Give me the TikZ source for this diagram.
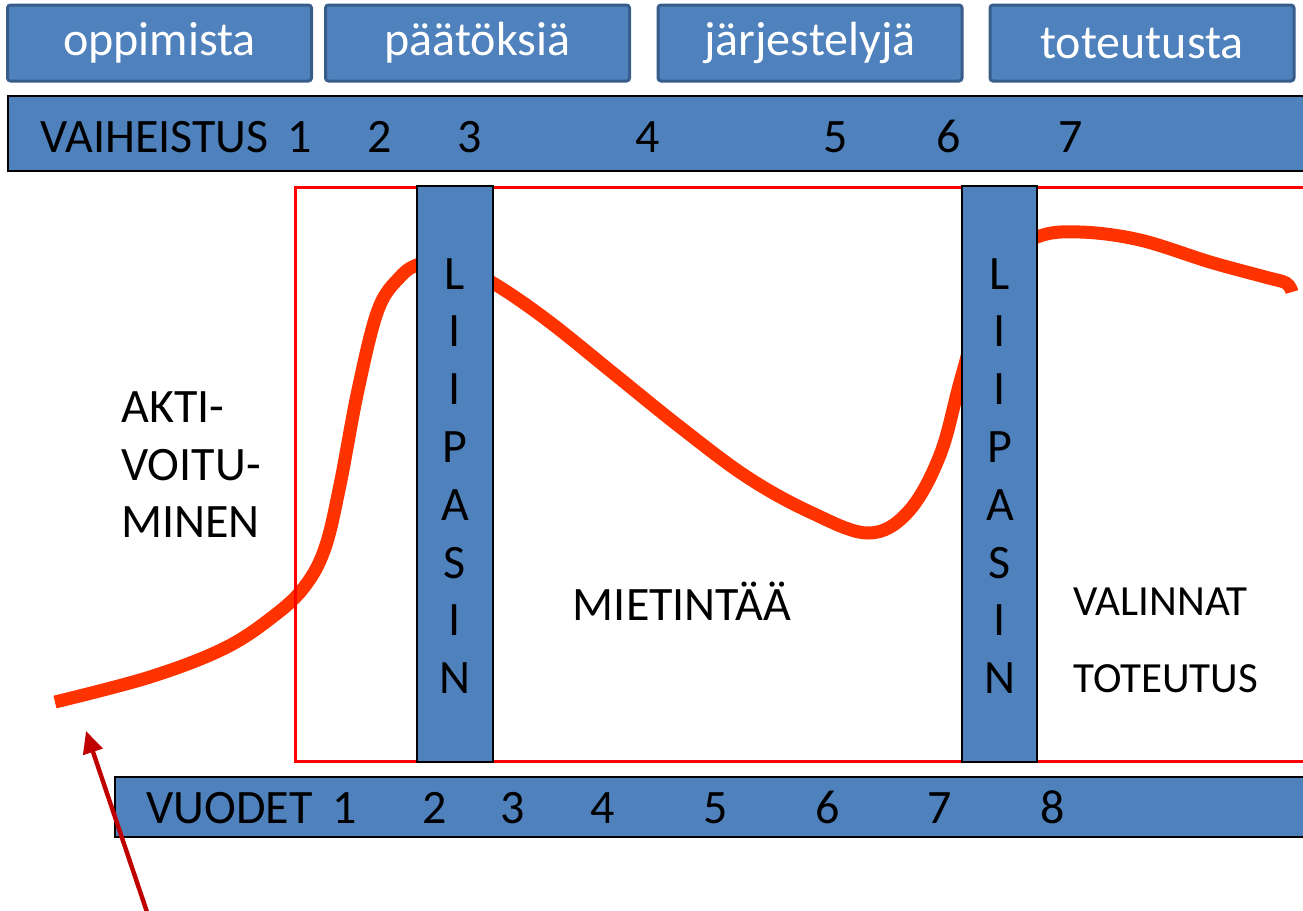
\documentclass[tikz,border=0pt]{standalone}
\usepackage{fontspec}
\setmainfont{Carlito}
\usetikzlibrary{arrows.meta}
\definecolor{barblue}{HTML}{4F81BD}
\definecolor{boxedge}{HTML}{385D8A}
\definecolor{curvered}{HTML}{FF3300}
\definecolor{arrowred}{HTML}{C00000}
\tikzset{
  topbox/.style={draw=boxedge, line width=1.5pt, fill=barblue, rounded corners=1.5pt,
    text=white, font=\fontsize{24}{29}\selectfont, minimum width=152pt,
    minimum height=38pt, inner sep=0pt},
  bartxt/.style={font=\fontsize{24}{29}\selectfont, inner sep=0pt, anchor=base},
  sidetxt/.style={font=\fontsize{21.5}{26}\selectfont, inner sep=0pt, anchor=base west},
  bar/.style={draw=black, fill=barblue, line width=0.6pt},
}
\begin{document}
\begin{tikzpicture}[x=0.5pt,y=-0.5pt]
        \useasboundingbox (0,0) rectangle (1303,911);
        % top boxes
        \node[topbox] (oppi) at (159.5,43) {oppimista};
        \node[topbox] (paat) at (477.5,43) {päätöksiä};
        \node[topbox] (jarj) at (810,43) {järjestelyjä};
        \node[topbox] (tote) at (1142,43) {toteutusta};

        % vaiheistus
        \draw[bar, line width=1pt] (8,96) rectangle (1320,171);
        \node[bartxt, anchor=base west] (vaih) at (40,152) {VAIHEISTUS};
        \foreach \n/\x in {1/300,2/380,3/470,4/648,5/836,6/949,7/1071}
          \node[bartxt] (v\n) at (\x,152) {\n};

        % curve
        \draw[curvered, line width=6.5pt] plot[smooth, tension=0.6] coordinates {
          (55,702) (150,677) (225,648) (275,615) (305,586) (325,548) (340,485)
          (358,390) (378,310) (400,277) (420,264) (450,262) (493,283) (547,320)
          (613,373) (680,427) (747,477) (810,512) (868,533) (908,512) (940,455)
          (962,375) (995,265) (1037,237) (1080,232) (1140,240) (1210,262)
          (1265,277) (1286,283) (1292,292)};
        \draw[red, line width=1.5pt] (1320,187)--(295,187)--(295,761)--(1320,761);

        % liipasin bars
        \draw[bar] (417,186) rectangle (493,762);
        \draw[bar] (962,186) rectangle (1037,762);
        \foreach \ch [count=\i from 0] in {L,I,I,P,A,S,I,N}{
          \node[bartxt] (la\i) at (455,289+57.8*\i) {\ch};
          \node[bartxt] (lb\i) at (1000,289+57.8*\i) {\ch};
        }

        % vuodet
        \draw[bar, line width=1pt] (115,777) rectangle (1320,837);
        \node[bartxt, anchor=base west] (vuod) at (146,823) {VUODET};
        \foreach \n/\x in {1/345,2/435,3/513,4/603,5/716,6/828,7/940,8/1053}
          \node[bartxt] (y\n) at (\x,823) {\n};

        % texts
        \node[sidetxt, font=\fontsize{24}{29}\selectfont] (akti) at (121,422) {AKTI-};
        \node[sidetxt, font=\fontsize{24}{29}\selectfont] (voit) at (121,480) {VOITU-};
        \node[sidetxt, font=\fontsize{24}{29}\selectfont] (mine) at (121,537) {MINEN};
        \node[bartxt] (miet) at (682,620) {MIETINTÄÄ};
        \node[sidetxt] (vali) at (1073,615) {VALINNAT};
        \node[sidetxt] (tots) at (1073,692) {TOTEUTUS};

        % arrow
        \coordinate (atail) at (148,915);
        \coordinate (ahead) at (86,731);
        \draw[arrowred, line width=2.2pt, -{Triangle[length=11pt,width=10pt]}] (atail) -- (ahead);
\end{tikzpicture}
\end{document}
